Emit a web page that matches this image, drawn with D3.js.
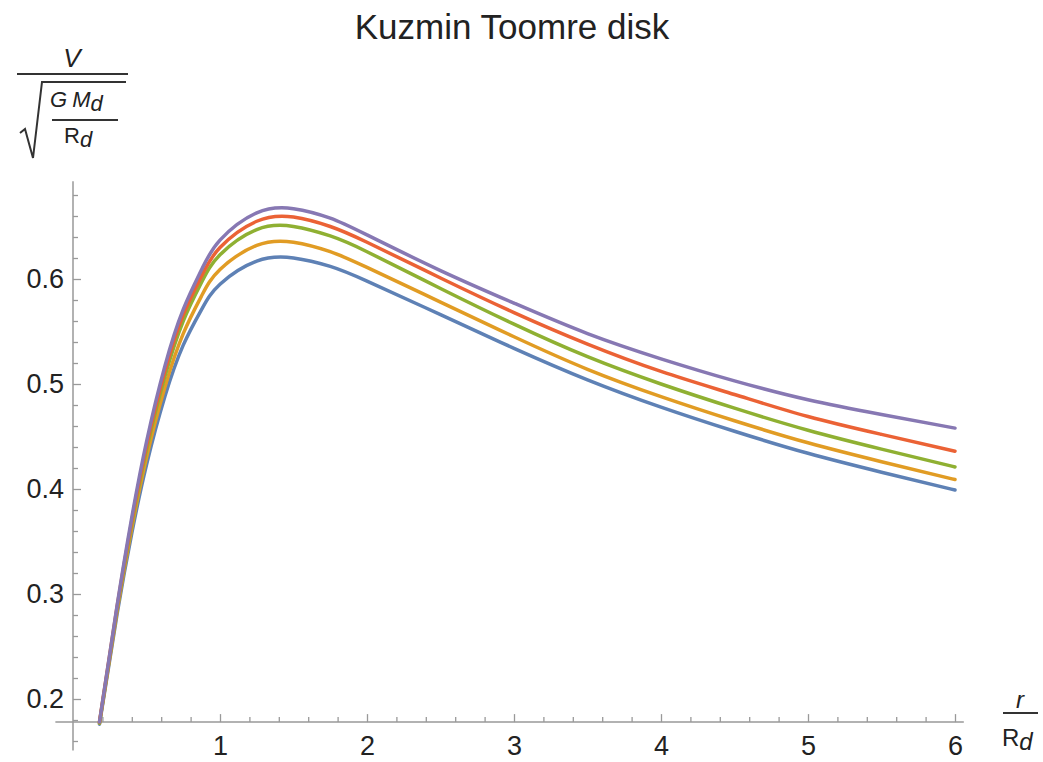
<!DOCTYPE html>
<html>
<head>
<meta charset="utf-8">
<script src="https://cdn.jsdelivr.net/npm/d3@7"></script>
<style>
  body { margin: 0; background: #fff; }
  svg { font-family: "Liberation Sans", Arial, sans-serif; }
  .axis .domain { display: none; }
  .axis line { stroke: #999; stroke-width: 1.3; }
  .axis text { fill: #222; font-size: 27px; }
</style>
</head>
<body>
<div id="chart"></div>
<script>
// radius in units of R_d
var radius = [0.18, 0.3, 0.4, 0.5, 0.625, 0.75, 0.875, 1, 1.25, 1.5, 1.75, 2, 2.5, 3, 3.5, 4, 4.5, 5, 5.5, 6];

// velocity / sqrt(G M_d / R_d)
var blueSeries   = [0.176, 0.281, 0.358, 0.423, 0.488, 0.537, 0.571, 0.595, 0.617, 0.620, 0.612, 0.598, 0.566, 0.534, 0.504, 0.478, 0.455, 0.434, 0.416, 0.399];
var orangeSeries = [0.177, 0.284, 0.363, 0.430, 0.497, 0.548, 0.584, 0.609, 0.632, 0.635, 0.626, 0.611, 0.578, 0.545, 0.514, 0.488, 0.465, 0.444, 0.426, 0.409];
var greenSeries  = [0.177, 0.286, 0.367, 0.437, 0.507, 0.560, 0.597, 0.623, 0.647, 0.650, 0.641, 0.626, 0.591, 0.557, 0.526, 0.500, 0.477, 0.456, 0.438, 0.421];
var redSeries    = [0.178, 0.288, 0.370, 0.441, 0.512, 0.566, 0.603, 0.630, 0.655, 0.659, 0.650, 0.635, 0.601, 0.568, 0.538, 0.512, 0.490, 0.469, 0.452, 0.436];
var purpleSeries = [0.178, 0.289, 0.373, 0.445, 0.517, 0.571, 0.609, 0.637, 0.663, 0.667, 0.658, 0.642, 0.608, 0.577, 0.548, 0.524, 0.503, 0.485, 0.471, 0.458];

var xTicks = [1, 2, 3, 4, 5, 6];
var yTicks = [0.2, 0.3, 0.4, 0.5, 0.6];

var series = [
  { values: blueSeries,   color: "#5E81B5" },
  { values: orangeSeries, color: "#E19C24" },
  { values: greenSeries,  color: "#8FB032" },
  { values: redSeries,    color: "#EB6235" },
  { values: purpleSeries, color: "#8778B3" }
];

var width = 1043, height = 762;

var svg = d3.select("#chart")
    .append("svg")
    .attr("width", width)
    .attr("height", height);

// scales
var x = d3.scaleLinear().domain([0, 6]).range([73, 955]);
var y = d3.scaleLinear().domain([0.2, 0.6]).range([699, 279]);

var xAxisLevel = 0.178;

// axis lines
svg.append("line")
    .attr("x1", x(-0.12)).attr("x2", x(6.06))
    .attr("y1", y(xAxisLevel)).attr("y2", y(xAxisLevel))
    .attr("stroke", "#999").attr("stroke-width", 1.5);

svg.append("line")
    .attr("x1", x(0)).attr("x2", x(0))
    .attr("y1", y(0.693)).attr("y2", y(0.151))
    .attr("stroke", "#999").attr("stroke-width", 1.5);

// x axis ticks
var minorX = d3.range(1, 31).map(d => d / 5).filter(d => Math.abs(d - Math.round(d)) > 1e-6);

svg.append("g")
    .attr("class", "axis")
    .attr("transform", "translate(0," + y(xAxisLevel) + ")")
    .call(d3.axisBottom(x).tickValues(minorX).tickSize(-5).tickFormat(""));

svg.append("g")
    .attr("class", "axis")
    .attr("transform", "translate(0," + y(xAxisLevel) + ")")
    .call(d3.axisBottom(x).tickValues(xTicks).tickSize(-8).tickPadding(14).tickFormat(d3.format("d")));

// y axis ticks
var minorY = d3.range(8, 35).map(d => d / 50).filter(d => Math.abs(d * 10 - Math.round(d * 10)) > 1e-6);

svg.append("g")
    .attr("class", "axis")
    .attr("transform", "translate(" + x(0) + ",0)")
    .call(d3.axisLeft(y).tickValues(minorY).tickSize(-5).tickFormat(""));

svg.append("g")
    .attr("class", "axis")
    .attr("transform", "translate(" + x(0) + ",0)")
    .call(d3.axisLeft(y).tickValues(yTicks).tickSize(-8).tickPadding(9).tickFormat(d3.format(".1f")));

// curves
var line = d3.line()
    .x((d, i) => x(radius[i]))
    .y(d => y(d))
    .curve(d3.curveNatural);

svg.selectAll(".curve")
    .data(series)
    .enter()
    .append("path")
    .attr("class", "curve")
    .attr("d", d => line(d.values))
    .attr("fill", "none")
    .attr("stroke", d => d.color)
    .attr("stroke-width", 3.5)
    .attr("stroke-linecap", "round");

// title
svg.append("text")
    .attr("x", 512)
    .attr("y", 39)
    .attr("text-anchor", "middle")
    .attr("font-size", 35)
    .attr("fill", "#222")
    .text("Kuzmin Toomre disk");

// y axis label: V / sqrt(G M_d / R_d)
var yl = svg.append("g").attr("fill", "#222");
yl.append("text")
    .attr("x", 72).attr("y", 67)
    .attr("text-anchor", "middle")
    .attr("font-size", 26).attr("font-style", "italic")
    .text("V");
yl.append("line")
    .attr("x1", 17).attr("x2", 128).attr("y1", 74).attr("y2", 74)
    .attr("stroke", "#333").attr("stroke-width", 2.2);
yl.append("path")
    .attr("d", "M20,133 L25,129 L33,158 L42,82 L126,82")
    .attr("fill", "none").attr("stroke", "#333").attr("stroke-width", 2);
var gm = yl.append("text").attr("x", 50).attr("y", 107).attr("font-size", 22);
gm.append("tspan").attr("font-style", "italic").text("G");
gm.append("tspan").attr("dx", 5).attr("font-style", "italic").text("M");
gm.append("tspan").attr("dy", 4).attr("font-style", "italic").text("d");
yl.append("line")
    .attr("x1", 52).attr("x2", 118).attr("y1", 120).attr("y2", 120)
    .attr("stroke", "#333").attr("stroke-width", 1.8);
var rd = yl.append("text").attr("x", 64).attr("y", 143).attr("font-size", 22);
rd.append("tspan").text("R");
rd.append("tspan").attr("dy", 4).attr("font-style", "italic").text("d");

// x axis label: r / R_d
var xl = svg.append("g").attr("fill", "#222");
xl.append("text")
    .attr("x", 1020).attr("y", 708)
    .attr("text-anchor", "middle")
    .attr("font-size", 24).attr("font-style", "italic")
    .text("r");
xl.append("line")
    .attr("x1", 1003).attr("x2", 1038).attr("y1", 713).attr("y2", 713)
    .attr("stroke", "#333").attr("stroke-width", 2);
var xr = xl.append("text").attr("x", 1002).attr("y", 746).attr("font-size", 24);
xr.append("tspan").text("R");
xr.append("tspan").attr("dy", 4).attr("font-style", "italic").text("d");
</script>
</body>
</html>
